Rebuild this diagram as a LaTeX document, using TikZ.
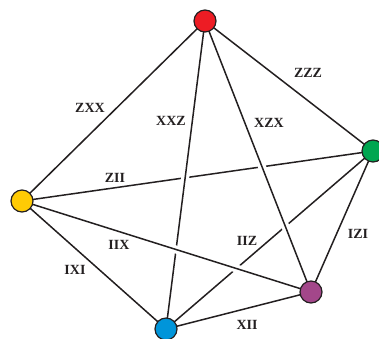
\documentclass[tikz,border=0pt]{standalone}
\usepackage{fontspec}
\setmainfont{Liberation Serif}
\begin{document}
\begin{tikzpicture}[x=1pt,y=-1pt,
  vert/.style={circle,draw=linec,line width=1.2pt,minimum size=22pt,inner sep=0pt},
  edge/.style={draw=linec,line width=1.5pt},
  halo/.style={draw=white,line width=8pt,shorten <=30pt,shorten >=30pt},
  lab/.style={font=\fontsize{14}{16}\selectfont\bfseries,text=linec,inner sep=1pt}]
\definecolor{linec}{HTML}{231F20}
\definecolor{cred}{HTML}{ED1C24}
\definecolor{cgreen}{HTML}{00A651}
\definecolor{cyellow}{HTML}{FFCB05}
\definecolor{cpurple}{HTML}{A3478A}
\definecolor{cblue}{HTML}{0095DA}
\useasboundingbox (0,0) rectangle (379,338);
\coordinate (r) at (205,21);
\coordinate (g) at (373,151);
\coordinate (y) at (22,201);
\coordinate (p) at (311,292);
\coordinate (b) at (166,329);
% under lines
\draw[edge] (y) -- (g);
\draw[edge] (g) -- (b);
% over lines with gaps
\path[halo] (r) -- (b);
\draw[edge] (r) -- (b);
\path[halo] (r) -- (p);
\draw[edge] (r) -- (p);
\path[halo] (y) -- (p);
\draw[edge] (y) -- (p);
% plain lines
\draw[edge] (r) -- (y);
\draw[edge] (r) -- (g);
\draw[edge] (g) -- (p);
\draw[edge] (y) -- (b);
\draw[edge] (b) -- (p);
% vertices
\node[vert,fill=cred] (R) at (r) {};
\node[vert,fill=cgreen] (G) at (g) {};
\node[vert,fill=cyellow] (Y) at (y) {};
\node[vert,fill=cpurple] (P) at (p) {};
\node[vert,fill=cblue] (B) at (b) {};
% labels
\node[lab] (l1) at (90,108) {ZXX};
\node[lab] (l2) at (171,121) {XXZ};
\node[lab] (l3) at (269,123) {XZX};
\node[lab] (l4) at (308,73) {ZZZ};
\node[lab] (l5) at (115,178) {ZII};
\node[lab] (l6) at (358,234) {IZI};
\node[lab] (l7) at (119,245) {IIX};
\node[lab] (l8) at (247,241) {IIZ};
\node[lab] (l9) at (75,270) {IXI};
\node[lab] (l10) at (247,325) {XII};
\end{tikzpicture}
\end{document}
